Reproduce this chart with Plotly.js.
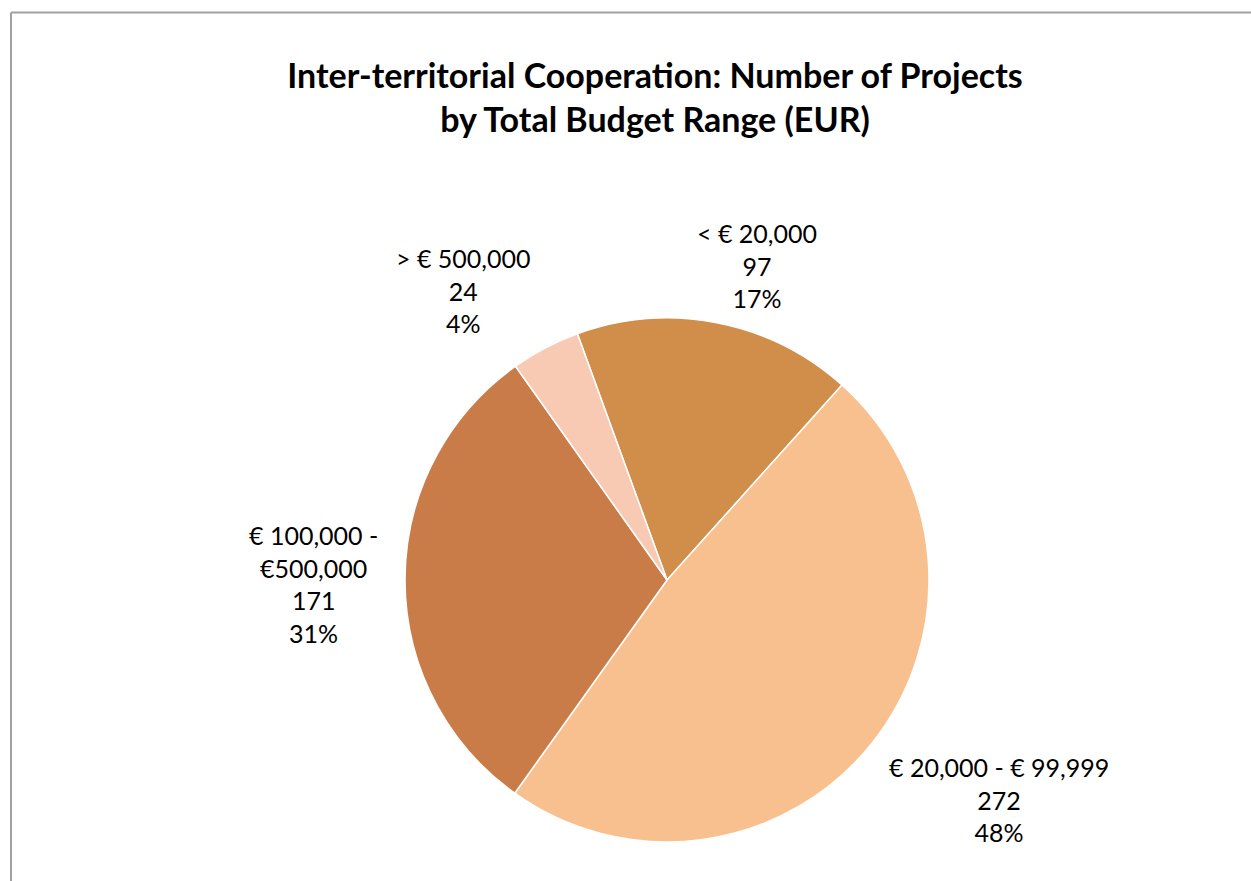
<!DOCTYPE html>
<html>
<head>
<meta charset="utf-8">
<script src="https://cdn.plot.ly/plotly-3.0.1.min.js"></script>
<style>
html,body{margin:0;padding:0;background:#fff;}
#chart{width:1251px;height:881px;}
</style>
</head>
<body>
<div id="chart"></div>
<script>
const categories = ["< € 20,000", "€ 20,000 - € 99,999", "€ 100,000 -<br>€500,000", "> € 500,000"];
const projectCounts = [97, 272, 171, 24];
const percentLabels = ["17%", "48%", "31%", "4%"];
const sliceColors = ["#D18D4A", "#F9C08F", "#C97C47", "#F8CAB3"];
const chartTitle = "Inter-territorial Cooperation: Number of Projects<br>by Total Budget Range (EUR)";

// label placement (pixel centres in the 1251x881 figure)
const labelPos = [[757, 265], [999, 799], [313, 584], [463, 290]];

const W = 1251, H = 881;
const px = x => x / W;
const py = y => 1 - y / H;

const annotations = categories.map((c, i) => ({
  xref: 'paper', yref: 'paper',
  x: px(labelPos[i][0]), y: py(labelPos[i][1]),
  xanchor: 'center', yanchor: 'middle', align: 'center',
  showarrow: false,
  text: c + '<br>' + projectCounts[i] + '<br>' + percentLabels[i],
  font: {family: 'Lato, Carlito, Calibri, sans-serif', size: 25, color: '#000'}
}));

const trace = {
  type: 'pie',
  labels: categories,
  values: projectCounts,
  sort: false,
  direction: 'clockwise',
  rotation: -20,
  textinfo: 'none',
  hoverinfo: 'label+value+percent',
  marker: {colors: sliceColors, line: {color: '#ffffff', width: 1.5}},
  domain: {x: [px(405), px(929)], y: [py(842), py(318)]},
  showlegend: false
};

const layout = {
  width: W, height: H,
  margin: {l: 0, r: 0, t: 0, b: 0},
  paper_bgcolor: '#fff',
  title: {
    text: chartTitle,
    x: px(655), xref: 'paper', xanchor: 'center',
    y: py(88), yref: 'container', yanchor: 'middle',
    font: {family: 'Lato, Carlito, Calibri, sans-serif', size: 34, weight: 'bold', color: '#000'}
  },
  annotations: annotations,
  shapes: [
    {type: 'line', xref: 'paper', yref: 'paper', x0: px(11), x1: 1, y0: py(12.5), y1: py(12.5), line: {color: '#a0a0a0', width: 2}},
    {type: 'line', xref: 'paper', yref: 'paper', x0: px(11), x1: px(11), y0: py(12.5), y1: 0, line: {color: '#a0a0a0', width: 2}}
  ]
};

Plotly.newPlot('chart', [trace], layout, {displayModeBar: false, staticPlot: true});
</script>
</body>
</html>
